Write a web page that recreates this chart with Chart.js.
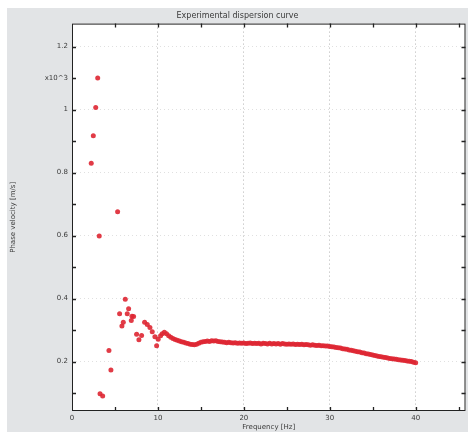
<!DOCTYPE html>
<html>
<head>
<meta charset="utf-8">
<script src="https://cdn.jsdelivr.net/npm/chart.js@4.4.0/dist/chart.umd.min.js"></script>
<style>
  html, body { margin: 0; padding: 0; background: #ffffff; }
  #wrap { position: absolute; left: 7px; top: 8px; width: 461px; height: 424px; background: #e2e4e6; }
</style>
</head>
<body>
<div id="wrap"><canvas id="dispChart" width="461" height="424"></canvas></div>
<script>
// scattered low-frequency picks
const lowFreq = [2.24, 2.48, 2.76, 2.99, 3.17, 3.26, 3.57, 4.3, 4.53, 5.31, 5.54, 5.81, 5.97, 6.2, 6.43, 6.59, 6.9, 6.98, 7.17, 7.52, 7.79, 8.1, 8.45, 8.76, 9.07, 9.34, 9.65, 9.85, 10.03, 10.31];
const lowVel = [0.83, 0.917, 1.007, 1.10, 0.599, 0.098, 0.091, 0.235, 0.173, 0.676, 0.352, 0.313, 0.325, 0.398, 0.352, 0.368, 0.330, 0.344, 0.343, 0.287, 0.269, 0.283, 0.325, 0.318, 0.308, 0.295, 0.279, 0.250, 0.271, 0.282];

// dense part of the curve
const curveFreq = [10.5, 10.75, 11, 11.25, 11.5, 11.75, 12, 12.25, 12.5, 12.75, 13, 13.25, 13.5, 13.75, 14, 14.25, 14.5, 14.75,
  15, 15.25, 15.5, 15.75, 16, 16.25, 16.5, 16.75, 17, 17.25, 17.5, 17.75, 18, 18.25, 18.5, 18.75, 19, 19.25, 19.5, 19.75,
  20, 20.25, 20.5, 20.75, 21, 21.25, 21.5, 21.75, 22, 22.25, 22.5, 22.75, 23, 23.25, 23.5, 23.75, 24, 24.25, 24.5, 24.75,
  25, 25.25, 25.5, 25.75, 26, 26.25, 26.5, 26.75, 27, 27.25, 27.5, 27.75, 28, 28.25, 28.5, 28.75, 29, 29.25, 29.5, 29.75,
  30, 30.25, 30.5, 30.75, 31, 31.25, 31.5, 31.75, 32, 32.25, 32.5, 32.75, 33, 33.25, 33.5, 33.75, 34, 34.25, 34.5, 34.75,
  35, 35.25, 35.5, 35.75, 36, 36.25, 36.5, 36.75, 37, 37.25, 37.5, 37.75, 38, 38.25, 38.5, 38.75, 39, 39.25, 39.5, 39.75, 40];
const curveVel = [0.288, 0.293, 0.288, 0.282, 0.277, 0.273, 0.270, 0.268, 0.265, 0.263, 0.261, 0.259, 0.257, 0.255, 0.254, 0.253, 0.255, 0.258,
  0.261, 0.263, 0.264, 0.265, 0.264, 0.266, 0.265, 0.266, 0.264, 0.263, 0.262, 0.261, 0.260, 0.261, 0.260, 0.259, 0.260, 0.258, 0.259, 0.258,
  0.259, 0.257, 0.258, 0.259, 0.257, 0.258, 0.257, 0.258, 0.256, 0.258, 0.257, 0.256, 0.258, 0.256, 0.257, 0.256, 0.257, 0.255, 0.257, 0.256,
  0.255, 0.256, 0.255, 0.256, 0.254, 0.255, 0.254, 0.255, 0.253, 0.254, 0.253, 0.252, 0.253, 0.252, 0.251, 0.252, 0.250, 0.250, 0.249, 0.249,
  0.248, 0.247, 0.246, 0.245, 0.244, 0.243, 0.241, 0.240, 0.239, 0.237, 0.236, 0.234, 0.233, 0.231, 0.230, 0.228, 0.227, 0.225, 0.224, 0.222,
  0.221, 0.219, 0.218, 0.216, 0.215, 0.214, 0.213, 0.211, 0.210, 0.209, 0.208, 0.207, 0.206, 0.205, 0.204, 0.203, 0.202, 0.201, 0.200, 0.198, 0.196];

const xTicks = [0, 5, 10, 15, 20, 25, 30, 35, 40, 45];
const xTickLabels = ['0', '', '10', '', '20', '', '30', '', '40', ''];
const yTicks = [0.1, 0.2, 0.3, 0.4, 0.5, 0.6, 0.7, 0.8, 0.9, 1.0, 1.1, 1.2];
const yTickLabels = ['', '0.2', '', '0.4', '', '0.6', '', '0.8', '', '1', 'x10^3', '1.2'];

const points = [];
lowFreq.forEach((f, i) => points.push({ x: f, y: lowVel[i] }));
curveFreq.forEach((f, i) => points.push({ x: f, y: curveVel[i] }));

const textColor = '#3a3a3a';
const font = { family: 'DejaVu Sans', size: 7 };

// white plot area, black frame, inward tick marks (matlab look)
const frame = {
    id: 'frame',
    beforeDraw(chart) {
        const a = chart.chartArea, c = chart.ctx;
        c.save();
        c.fillStyle = '#ffffff';
        c.fillRect(a.left, a.top, a.right - a.left, a.bottom - a.top);
        c.restore();
    },
    afterDraw(chart) {
        const a = chart.chartArea, c = chart.ctx;
        const xs = chart.scales.x, ys = chart.scales.y;
        c.save();
        c.strokeStyle = '#222';
        c.lineWidth = 1;
        c.strokeRect(a.left + 0.5, a.top + 0.5, a.right - a.left - 1, a.bottom - a.top - 1);
        c.lineWidth = 1.3;
        c.beginPath();
        xTicks.forEach(v => {
            const px = Math.round(xs.getPixelForValue(v)) + 0.5;
            if (px <= a.left + 1 || px >= a.right - 1) return;
            c.moveTo(px, a.bottom); c.lineTo(px, a.bottom - 4);
            c.moveTo(px, a.top); c.lineTo(px, a.top + 4);
        });
        yTicks.forEach(v => {
            const py = Math.round(ys.getPixelForValue(v)) + 0.5;
            if (py <= a.top + 1 || py >= a.bottom - 1) return;
            c.moveTo(a.left, py); c.lineTo(a.left + 4, py);
            c.moveTo(a.right, py); c.lineTo(a.right - 4, py);
        });
        c.stroke();
        c.restore();
    }
};

new Chart(document.getElementById('dispChart'), {
    type: 'scatter',
    data: {
        datasets: [{
            label: 'Phase velocity',
            data: points,
            pointRadius: 2.5,
            pointHoverRadius: 2.5,
            pointBorderWidth: 0,
            backgroundColor: 'rgba(222, 38, 50, 0.9)',
            borderColor: 'rgba(222, 38, 50, 0.9)'
        }]
    },
    options: {
        responsive: false,
        animation: false,
        layout: { padding: { left: 0, right: 0, top: 0, bottom: 0 } },
        plugins: {
            legend: { display: false },
            tooltip: { enabled: false },
            title: {
                display: true,
                text: 'Experimental dispersion curve',
                color: textColor,
                font: { family: 'DejaVu Sans', size: 8, weight: 'normal' },
                padding: { top: 3, bottom: 3 }
            }
        },
        scales: {
            x: {
                type: 'linear',
                min: 0,
                max: 45.8,
                afterBuildTicks: s => { s.ticks = xTicks.map(v => ({ value: v })); },
                afterFit: s => { s.height = 21; s.paddingRight = 0; s.paddingLeft = 0; },
                ticks: {
                    autoSkip: false,
                    maxRotation: 0,
                    padding: 3,
                    color: textColor,
                    font: font,
                    callback: (v) => xTickLabels[xTicks.indexOf(v)]
                },
                grid: {
                    drawTicks: false,
                    lineWidth: 1,
                    color: ctx => (ctx.tick && ctx.tick.value % 10 === 0 && ctx.tick.value > 0) ? 'rgba(0,0,0,0.3)' : 'rgba(0,0,0,0)'
                },
                border: { display: false, dash: [1, 3] },
                title: {
                    display: true,
                    text: 'Frequency [Hz]',
                    color: textColor,
                    font: font,
                    padding: { top: 0, bottom: 1 }
                }
            },
            y: {
                type: 'linear',
                min: 0.043,
                max: 1.273,
                afterBuildTicks: s => { s.ticks = yTicks.map(v => ({ value: v })); },
                afterFit: s => { s.width = 65; },
                ticks: {
                    autoSkip: false,
                    padding: 4,
                    color: textColor,
                    font: font,
                    callback: (v) => yTickLabels[yTicks.findIndex(t => Math.abs(t - v) < 1e-6)]
                },
                grid: {
                    drawTicks: false,
                    lineWidth: 1,
                    color: ctx => {
                        if (!ctx.tick) return 'rgba(0,0,0,0)';
                        const k = Math.round(ctx.tick.value * 10);
                        return k % 2 === 0 ? 'rgba(0,0,0,0.12)' : 'rgba(0,0,0,0)';
                    }
                },
                border: { display: false, dash: [1, 3] },
                title: {
                    display: true,
                    text: 'Phase velocity [m/s]',
                    color: textColor,
                    font: font,
                    padding: { top: 2, bottom: 0 }
                }
            }
        }
    },
    plugins: [frame]
});
</script>
</body>
</html>
